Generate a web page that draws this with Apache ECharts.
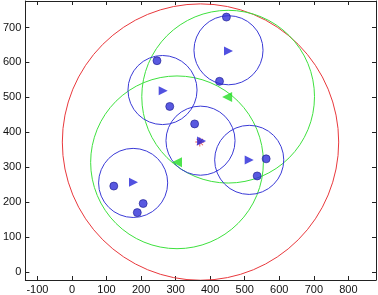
<!DOCTYPE html>
<html><head><meta charset="utf-8">
<script src="https://cdn.jsdelivr.net/npm/echarts@6/dist/echarts.min.js"></script>
<style>html,body{margin:0;padding:0;background:#fff}#c{width:378px;height:295px}</style>
</head><body><div id="c"></div>
<script>
// tick labels
const xTicks = [-100, 0, 100, 200, 300, 400, 500, 600, 700, 800];
const yTicks = [0, 100, 200, 300, 400, 500, 600, 700];
// circles: [centerX, centerY, radius]
const blueCircles = [[453, 635, 100], [262, 521, 100], [372, 376, 100], [513, 321, 100], [177, 255, 100]];
const greenCircles = [[452, 502, 250], [304, 314, 250]];
const redCircles = [[372, 372, 400]];
// cluster centres
const blueCentres = [[453, 633], [264, 519], [375, 375], [513, 321], [178, 257]];
const greenCentres = [[449, 501], [304, 314]];
const redCentres = [[370, 372]];
// points
const bluePoints = [[447, 730], [427, 546], [246, 605], [283, 474], [355, 424], [562, 324], [536, 275], [121, 246], [206, 196], [189, 170]];

const X_MIN = -135, X_MAX = 880, Y_MIN = -23, Y_MAX = 776;
const font = 'Liberation Sans, Arial, sans-serif';

function circleSeries(data, color) {
  return {
    type: 'custom', data: data, clip: true, silent: true, z: 2,
    renderItem: function (params, api) {
      const c = api.coord([api.value(0), api.value(1)]);
      const s = api.size([api.value(2), api.value(2)]);
      return { type: 'circle', shape: { cx: c[0], cy: c[1], r: s[0] },
               style: { fill: 'none', stroke: color, lineWidth: 1 } };
    }
  };
}

const chart = echarts.init(document.getElementById('c'), null, { renderer: 'canvas' });
const axisCommon = {
  type: 'value', splitLine: { show: false },
  axisLine: { show: true, onZero: false, lineStyle: { color: '#222', width: 1 } },
  axisTick: { show: true, inside: true, length: 4, lineStyle: { color: '#222' } }
};
chart.setOption({
  animation: false,
  grid: { left: 22, right: 2, top: 1, bottom: 15 },
  xAxis: [
    Object.assign({}, axisCommon, { position: 'bottom', min: X_MIN, max: X_MAX,
      axisTick: Object.assign({}, axisCommon.axisTick, { customValues: xTicks }),
      axisLabel: { customValues: xTicks, color: '#111', fontSize: 11, fontFamily: font, margin: 4 } }),
    Object.assign({}, axisCommon, { position: 'top', min: X_MIN, max: X_MAX,
      axisTick: Object.assign({}, axisCommon.axisTick, { customValues: xTicks }),
      axisLabel: { show: false } })
  ],
  yAxis: [
    Object.assign({}, axisCommon, { position: 'left', min: Y_MIN, max: Y_MAX,
      axisTick: Object.assign({}, axisCommon.axisTick, { customValues: yTicks }),
      axisLabel: { customValues: yTicks, color: '#111', fontSize: 11, fontFamily: font, margin: 4 } }),
    Object.assign({}, axisCommon, { position: 'right', min: Y_MIN, max: Y_MAX,
      axisTick: Object.assign({}, axisCommon.axisTick, { customValues: yTicks }),
      axisLabel: { show: false } })
  ],
  series: [
    circleSeries(redCircles, '#e8383c'),
    circleSeries(greenCircles, '#3ee03e'),
    circleSeries(blueCircles, '#3a3ad6'),
    { type: 'scatter', data: redCentres, z: 3, symbolSize: 9,
      symbol: 'path://M-1,-10L1,-10L1,10L-1,10Z M-10,-1L10,-1L10,1L-10,1Z M-7.7,-6.3L6.3,7.7L7.7,6.3L-6.3,-7.7Z M6.3,-7.7L7.7,-6.3L-6.3,7.7L-7.7,6.3Z',
      itemStyle: { color: '#e02020' } },
    { type: 'scatter', data: greenCentres, z: 4, symbol: 'triangle', symbolRotate: 90, symbolSize: 10,
      itemStyle: { color: '#22dd22' } },
    { type: 'scatter', data: blueCentres, z: 4, symbol: 'triangle', symbolRotate: -90, symbolSize: 9,
      itemStyle: { color: '#2626d8' } },
    { type: 'scatter', data: bluePoints, z: 4, symbol: 'circle', symbolSize: 8,
      itemStyle: { color: '#3030d8', borderColor: '#1e1e90', borderWidth: 0.8 } }
  ]
});
</script></body></html>
